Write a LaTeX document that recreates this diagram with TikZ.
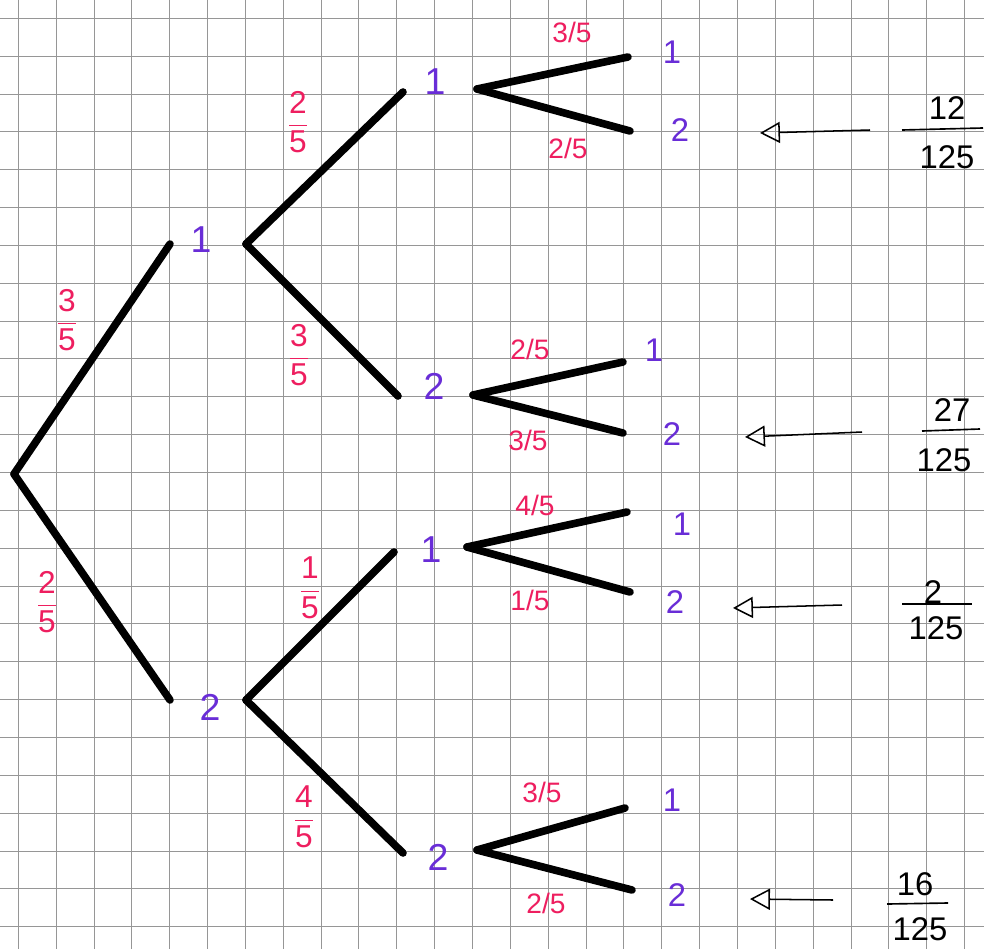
\documentclass[tikz,border=0pt]{standalone}
\usepackage{fontspec}
\setmainfont{Liberation Sans}
\usepackage{amsmath}
\usetikzlibrary{arrows.meta}
\definecolor{pinkl}{RGB}{238,30,95}
\definecolor{purp}{RGB}{105,45,215}
\definecolor{gridc}{RGB}{150,150,150}
\newcommand\vfr[2]{$\dfrac{\text{#1}}{\text{#2}}$}
\tikzset{
  branch/.style={line width=6.5pt, line cap=round, black},
  gridline/.style={gridc, line width=0.8pt},
  outa/.style={text=purp, font=\fontsize{32}{32}\selectfont, inner sep=0pt},
  outb/.style={text=purp, font=\fontsize{28}{28}\selectfont, inner sep=0pt},
  probi/.style={text=pinkl, font=\fontsize{24}{24}\selectfont, inner sep=0pt},
  probv/.style={text=pinkl, font=\fontsize{27}{27}\selectfont, inner sep=0pt},
  res/.style={font=\fontsize{28}{28}\selectfont, inner sep=0pt},
  ptr/.style={line width=1.3pt, -{Triangle[open,length=17pt,width=18pt,line width=1.3pt]}},
  resbar/.style={line width=1.4pt}
}
\begin{document}
\begin{tikzpicture}[x=0.03cm, y=-0.03cm]
\useasboundingbox (0,0) rectangle (984,949);
\fill[white] (0,0) rectangle (984,949);
% grid paper
\foreach \i in {0,...,25} { \draw[gridline] ({18.3+37.85*\i},0) -- ({18.3+37.85*\i},949); }
\foreach \i in {0,...,24} { \draw[gridline] (0,{18.3+37.85*\i}) -- (984,{18.3+37.85*\i}); }

% ---- level 1 ----
\coordinate (R) at (14,474);
\coordinate (e1) at (170,244);
\coordinate (e2) at (170,700);
\draw[branch] (R) -- (e1);
\draw[branch] (R) -- (e2);
\node[outa] (n1) at (201,240) {1};
\node[outa] (n2) at (210,707) {2};
\node[probv] (p1) at (67,320) {\vfr{3}{5}};
\node[probv] (p2) at (47,602) {\vfr{2}{5}};

% ---- level 2 ----
\coordinate (s1) at (246,244);
\coordinate (s2) at (246,700);
\coordinate (e11) at (403,92);
\coordinate (e12) at (398,396);
\coordinate (e21) at (394,552);
\coordinate (e22) at (403,853);
\draw[branch] (s1) -- (e11);
\draw[branch] (s1) -- (e12);
\draw[branch] (s2) -- (e21);
\draw[branch] (s2) -- (e22);
\node[outa] (n11) at (435,82) {1};
\node[outa] (n12) at (434,386) {2};
\node[outa] (n21) at (431,550) {1};
\node[outa] (n22) at (438,857) {2};
\node[probv] (p11) at (298,122) {\vfr{2}{5}};
\node[probv] (p12) at (299,355) {\vfr{3}{5}};
\node[probv] (p21) at (310,588) {\vfr{1}{5}};
\node[probv] (p22) at (304,817) {\vfr{4}{5}};

% ---- level 3 ----
\coordinate (s11) at (477,89);
\coordinate (e111) at (628,57);
\coordinate (e112) at (630,131);
\coordinate (s12) at (473,395);
\coordinate (e121) at (623,362);
\coordinate (e122) at (623,433);
\coordinate (s21) at (467,547);
\coordinate (e211) at (627,512);
\coordinate (e212) at (630,592);
\coordinate (s22) at (477,850);
\coordinate (e221) at (625,808);
\coordinate (e222) at (632,890);
\draw[branch] (s11) -- (e111);
\draw[branch] (s11) -- (e112);
\draw[branch] (s12) -- (e121);
\draw[branch] (s12) -- (e122);
\draw[branch] (s21) -- (e211);
\draw[branch] (s21) -- (e212);
\draw[branch] (s22) -- (e221);
\draw[branch] (s22) -- (e222);

\node[outb] (n111) at (672,52) {1};
\node[outb] (n112) at (680,130) {2};
\node[outb] (n121) at (654,350) {1};
\node[outb] (n122) at (672,434) {2};
\node[outb] (n211) at (682,524) {1};
\node[outb] (n212) at (675,602) {2};
\node[outb] (n221) at (672,800) {1};
\node[outb] (n222) at (677,895) {2};

\node[probi] (p111) at (572,32) {3/5};
\node[probi] (p112) at (568,148) {2/5};
\node[probi] (p121) at (530,349) {2/5};
\node[probi] (p122) at (528,440) {3/5};
\node[probi] (p211) at (535,505) {4/5};
\node[probi] (p212) at (530,600) {1/5};
\node[probi] (p221) at (542,792) {3/5};
\node[probi] (p222) at (546,903) {2/5};

% ---- results ----
\coordinate (t1) at (870,130); \coordinate (h1) at (760,133);
\coordinate (t2) at (862,432); \coordinate (h2) at (745,437);
\coordinate (t3) at (842,605); \coordinate (h3) at (733,608);
\coordinate (t4) at (833,900); \coordinate (h4) at (750,899);
\draw[ptr] (t1) -- (h1);
\draw[ptr] (t2) -- (h2);
\draw[ptr] (t3) -- (h3);
\draw[ptr] (t4) -- (h4);

\node[res] (r1n) at (947,108) {12};
\coordinate (b1l) at (902,130); \coordinate (b1r) at (983,128);
\draw[resbar] (b1l) -- (b1r);
\node[res] (r1d) at (947,157) {125};

\node[res] (r2n) at (952,410) {27};
\coordinate (b2l) at (922,431); \coordinate (b2r) at (980,429);
\draw[resbar] (b2l) -- (b2r);
\node[res] (r2d) at (944,460) {125};

\node[res] (r3n) at (933,592) {2};
\coordinate (b3l) at (902,604); \coordinate (b3r) at (972,604);
\draw[resbar] (b3l) -- (b3r);
\node[res] (r3d) at (936,628) {125};

\node[res] (r4n) at (915,884) {16};
\coordinate (b4l) at (887,904); \coordinate (b4r) at (948,903);
\draw[resbar] (b4l) -- (b4r);
\node[res] (r4d) at (920,929) {125};
\end{tikzpicture}
\end{document}
